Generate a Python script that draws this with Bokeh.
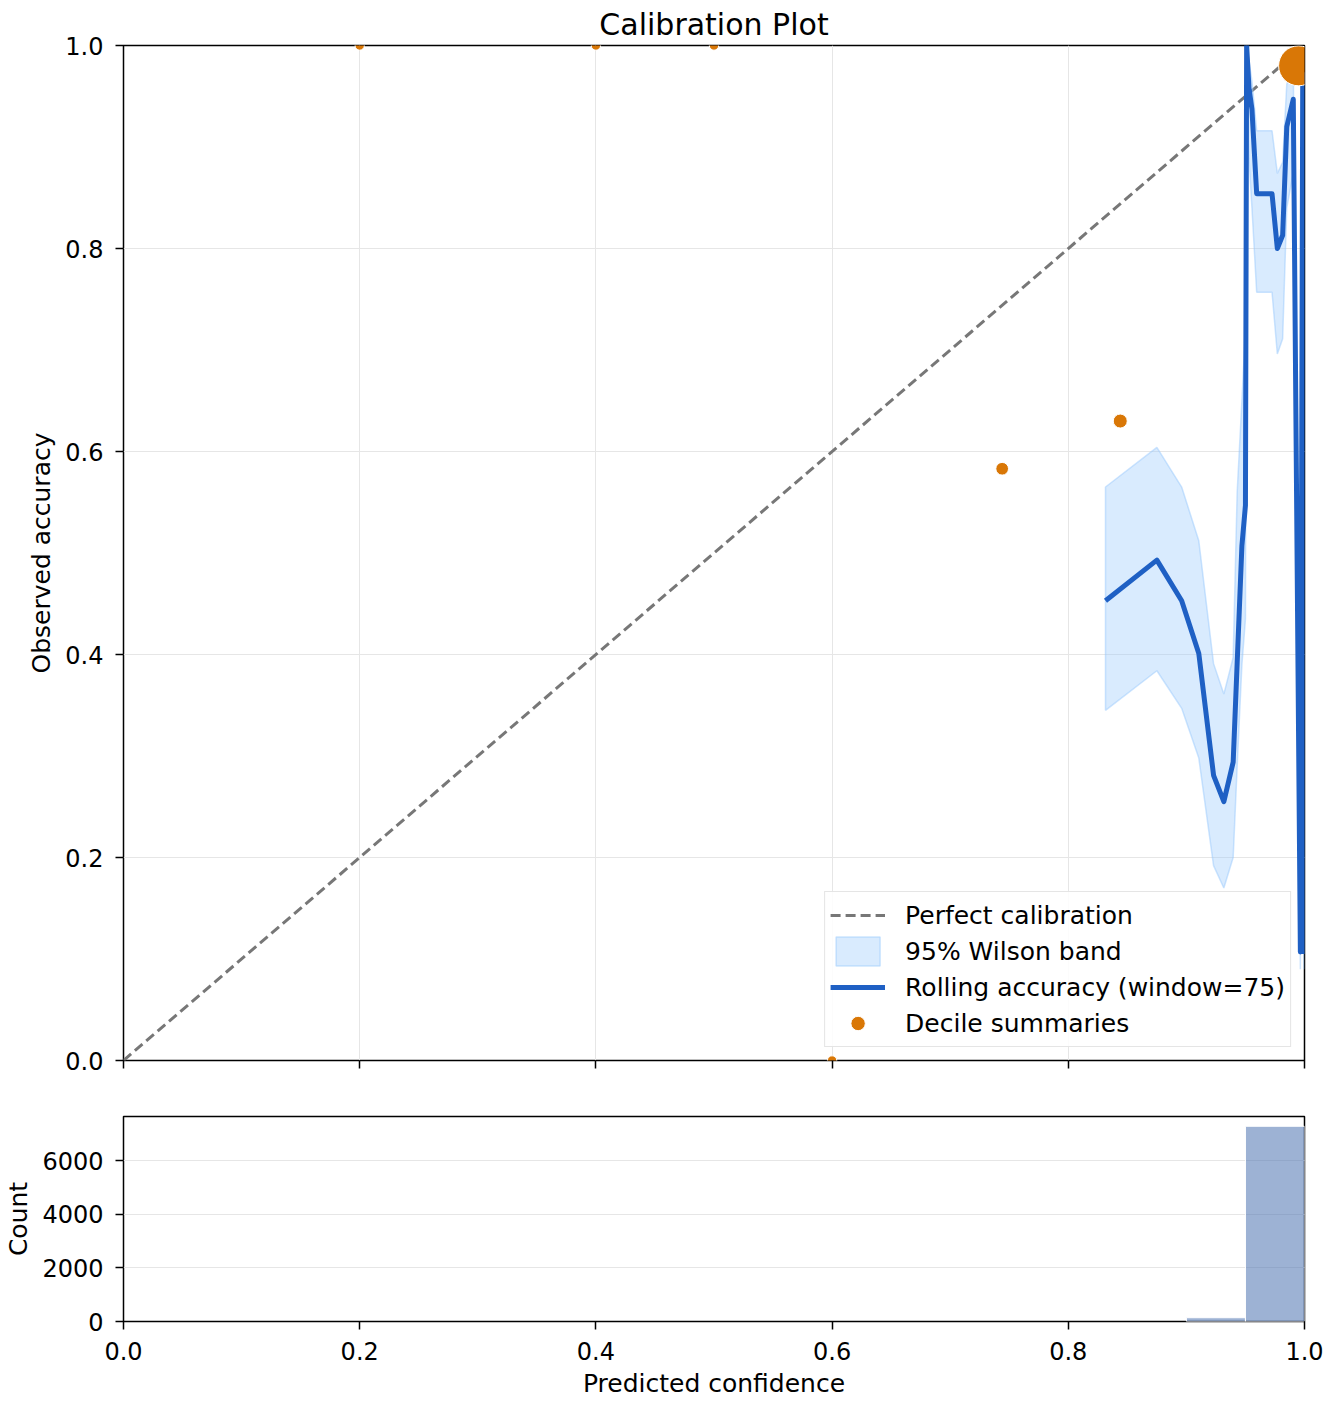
# Calibration plot: rolling accuracy vs predicted confidence, with confidence histogram
import numpy as np
from bokeh.plotting import figure
from bokeh.layouts import column
from bokeh.models import Range1d, NumeralTickFormatter, Legend, CustomJSTickFormatter
from bokeh.embed import file_html
from bokeh.resources import INLINE

# perfect calibration diagonal
diag = [0.0, 1.0]

# rolling accuracy (window=75) and 95% Wilson band
roll_conf = [0.8315, 0.8750, 0.8960, 0.9105, 0.9230, 0.9317, 0.9396, 0.9430, 0.9470,
             0.9500, 0.9510, 0.9530, 0.9555, 0.9595, 0.9725, 0.9770, 0.9815, 0.9850,
             0.9905, 0.9965, 0.9985, 0.9995]
roll_acc = [0.453, 0.493, 0.453, 0.401, 0.281, 0.255, 0.294, 0.392, 0.507,
            0.547, 1.000, 0.958, 0.937, 0.854, 0.854, 0.800, 0.813, 0.920,
            0.947, 0.107, 0.972, 0.105]
band_hi = [0.565, 0.604, 0.565, 0.512, 0.391, 0.361, 0.397, 0.560, 0.650,
           0.720, 1.000, 0.985, 0.965, 0.916, 0.916, 0.874, 0.885, 0.962,
           0.980, 0.197, 0.995, 0.197]
band_lo = [0.345, 0.384, 0.347, 0.298, 0.192, 0.170, 0.200, 0.290, 0.390,
           0.435, 0.950, 0.889, 0.840, 0.757, 0.757, 0.696, 0.711, 0.840,
           0.875, 0.090, 0.905, 0.090]

# decile summaries
dec_conf = [0.200, 0.400, 0.500, 0.600, 0.744, 0.844, 0.995]
dec_acc = [1.0, 1.0, 1.0, 0.0, 0.583, 0.630, 0.980]
dec_n = [1, 1, 1, 1, 104, 189, 7276]

# histogram of predicted confidence (20 bins of 0.05)
hist_edges = [i / 20 for i in range(21)]
hist_counts = [0, 0, 0, 0, 0, 0, 0, 0, 0, 0, 0, 0, 0, 0, 0, 0, 0, 0, 140, 7276]

x_ticks = [0.0, 0.2, 0.4, 0.6, 0.8, 1.0]
acc_ticks = [0.0, 0.2, 0.4, 0.6, 0.8, 1.0]
count_ticks = [0, 2000, 4000, 6000]

FONT = "DejaVu Sans"
ORANGE = "#d97706"
BLUE = "#1f60c4"


def style(p):
    p.outline_line_color = "black"
    p.outline_line_width = 1.5
    p.outline_line_alpha = 1.0
    p.axis.axis_line_color = None
    p.axis.major_tick_line_color = "black"
    p.axis.major_tick_line_width = 1.5
    p.axis.major_tick_out = 8
    p.axis.major_tick_in = 0
    p.axis.minor_tick_line_color = None
    p.axis.major_label_text_font = FONT
    p.axis.major_label_text_font_size = "24px"
    p.axis.major_label_text_color = "black"
    p.axis.major_label_standoff = 12
    p.axis.axis_label_text_font = FONT
    p.axis.axis_label_text_font_size = "25px"
    p.axis.axis_label_text_font_style = "normal"
    p.axis.axis_label_text_color = "black"
    p.grid.grid_line_color = "#e6e6e6"
    p.grid.grid_line_width = 1


p = figure(width=1324, height=1088, output_backend="svg", toolbar_location=None,
           x_range=Range1d(0, 1), y_range=Range1d(0, 1),
           min_border_left=123, min_border_right=20, min_border_top=45, min_border_bottom=28)
style(p)
p.title.text = "Calibration Plot"
p.title.align = "center"
p.title.text_font = FONT
p.title.text_font_size = "30px"
p.title.text_font_style = "normal"
p.title.text_color = "black"
p.title.standoff = 8
p.xaxis.ticker = x_ticks
p.xaxis.formatter = CustomJSTickFormatter(code="return ''")
p.xaxis.major_label_standoff = 0
p.yaxis.ticker = acc_ticks
p.yaxis.formatter = NumeralTickFormatter(format="0.0")
p.yaxis.axis_label = "Observed accuracy"
p.yaxis.axis_label_standoff = 6

r_diag = p.line(diag, diag, line_color="#777777", line_width=3, line_dash="10 5")

band_x = roll_conf + roll_conf[::-1]
band_y = band_hi + band_lo[::-1]
r_band = p.patch(band_x, band_y, fill_color="#93c5fd", fill_alpha=0.35,
                 line_color="#93c5fd", line_alpha=0.45, line_width=1.5)

r_roll = p.line(roll_conf, roll_acc, line_color=BLUE, line_width=5, line_join="round")

n_max = max(dec_n)
dec_size = [9 + 31 * np.sqrt(n / n_max) for n in dec_n]
r_dec = p.scatter(dec_conf, dec_acc, size=dec_size, fill_color=ORANGE, line_color="white",
                  line_width=1)

legend = Legend(items=[("Perfect calibration", [r_diag]),
                       ("95% Wilson band", [r_band]),
                       ("Rolling accuracy (window=75)", [r_roll]),
                       ("Decile summaries", [r_dec])],
                location="bottom_right")
legend.label_text_font = FONT
legend.label_text_font_size = "25px"
legend.label_text_color = "black"
legend.glyph_width = 55
legend.glyph_height = 36
legend.label_height = 36
legend.spacing = 0
legend.padding = 5
legend.margin = 13
legend.label_standoff = 20
legend.border_line_color = "#cccccc"
legend.border_line_width = 1.5
legend.background_fill_alpha = 0.85
p.add_layout(legend)

# histogram below, sharing the x range
h = figure(width=1324, height=313, output_backend="svg", toolbar_location=None,
           x_range=p.x_range, y_range=Range1d(0, 7640),
           min_border_left=123, min_border_right=20, min_border_top=28, min_border_bottom=80)
style(h)
h.xgrid.visible = False
h.xaxis.ticker = x_ticks
h.xaxis.formatter = NumeralTickFormatter(format="0.0")
h.xaxis.axis_label = "Predicted confidence"
h.xaxis.axis_label_standoff = 6
h.yaxis.ticker = count_ticks
h.yaxis.formatter = NumeralTickFormatter(format="0")
h.yaxis.axis_label = "Count"
h.yaxis.axis_label_standoff = 6

keep = [i for i, c in enumerate(hist_counts) if c > 0]
h.quad(left=[hist_edges[i] for i in keep], right=[hist_edges[i + 1] for i in keep],
       bottom=0, top=[hist_counts[i] for i in keep],
       fill_color="#4c72b0", fill_alpha=0.55, line_color="white", line_width=1)

layout = column(p, h)
open("out.html", "w").write(file_html(layout, INLINE))
